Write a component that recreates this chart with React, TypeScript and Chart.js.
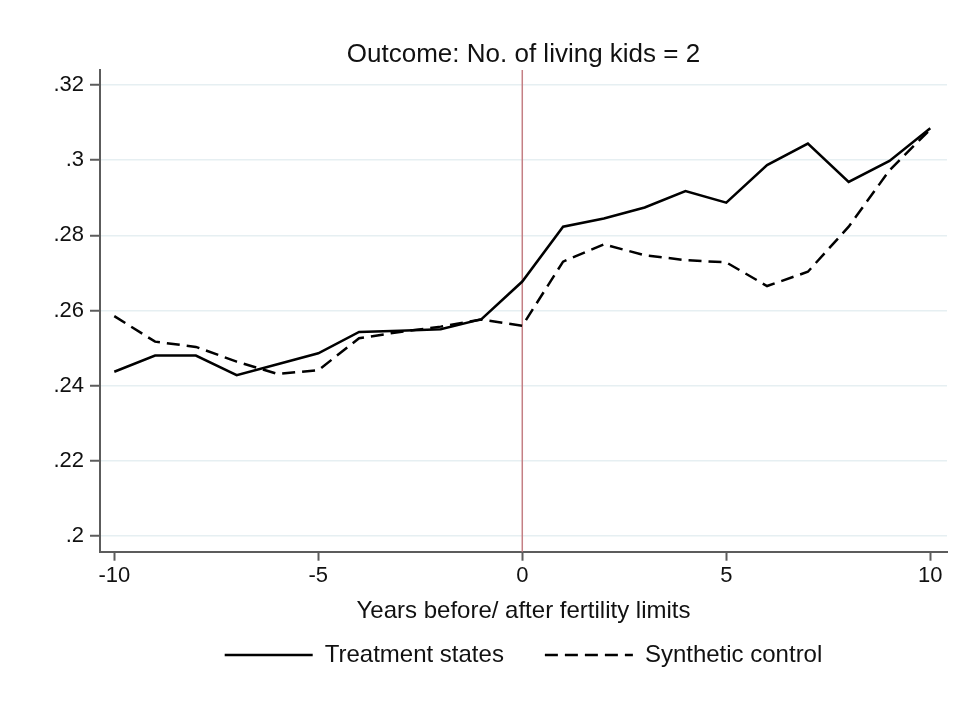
import React, { useEffect, useRef } from "react";
import { Chart, registerables } from "chart.js";

Chart.register(...registerables);

const TITLE = "Outcome: No. of living kids = 2";
const X_TITLE = "Years before/ after fertility limits";
const YEARS = [-10, -9, -8, -7, -6, -5, -4, -3, -2, -1, 0, 1, 2, 3, 4, 5, 6, 7, 8, 9, 10];
const TREATMENT = [
  0.2437, 0.248, 0.248, 0.2428, 0.2457, 0.2486, 0.2543, 0.2546, 0.255, 0.2577, 0.2677,
  0.2823, 0.2845, 0.2874, 0.2918, 0.2887, 0.2987, 0.3044, 0.2942, 0.2998, 0.3085,
];
const SYNTHETIC = [
  0.2585, 0.2517, 0.2503, 0.2464, 0.2431, 0.2441, 0.2526, 0.2543, 0.2557, 0.2576, 0.2559,
  0.273, 0.2776, 0.2747, 0.2734, 0.2728, 0.2665, 0.2703, 0.2823, 0.2973, 0.3082,
];
const Y_TICKS = [0.2, 0.22, 0.24, 0.26, 0.28, 0.3, 0.32];
const Y_TICK_LABELS = [".2", ".22", ".24", ".26", ".28", ".3", ".32"];
const X_TICKS = [-10, -5, 0, 5, 10];
const X_TICK_LABELS = ["-10", "-5", "0", "5", "10"];
const SERIES_NAMES = ["Treatment states", "Synthetic control"];
const EVENT_YEAR = 0;

const FONT = "'Liberation Sans', Arial, Helvetica, sans-serif";
const AXIS_COLOR = "#5c5c5c";
const DASH = [13, 7];

const eventLinePlugin = {
  id: "eventLine",
  beforeDatasetsDraw(chart: any) {
    const { ctx, chartArea, scales } = chart;
    const px = scales.x.getPixelForValue(EVENT_YEAR);
    ctx.save();
    ctx.strokeStyle = "#c47f84";
    ctx.lineWidth = 1.5;
    ctx.beginPath();
    ctx.moveTo(px, chartArea.top);
    ctx.lineTo(px, chartArea.bottom);
    ctx.stroke();
    ctx.restore();
  },
};

export default function App() {
  const ref = useRef<HTMLCanvasElement | null>(null);

  useEffect(() => {
    if (!ref.current) return;
    const chart = new Chart(ref.current, {
      type: "line",
      data: {
        datasets: [
          {
            label: SERIES_NAMES[0],
            data: YEARS.map((x, i) => ({ x, y: TREATMENT[i] })),
            borderColor: "#000000",
            backgroundColor: "#000000",
            borderWidth: 2.5,
            pointRadius: 0,
            tension: 0,
          },
          {
            label: SERIES_NAMES[1],
            data: YEARS.map((x, i) => ({ x, y: SYNTHETIC[i] })),
            borderColor: "#000000",
            backgroundColor: "#000000",
            borderWidth: 2.5,
            borderDash: DASH,
            pointRadius: 0,
            tension: 0,
          },
        ],
      },
      options: {
        animation: false,
        responsive: false,
        maintainAspectRatio: false,
        layout: { padding: { left: 0, right: 11, top: 0, bottom: 28 } },
        scales: {
          x: {
            type: "linear",
            min: -10.35,
            max: 10.41,
            afterBuildTicks: (s: any) => {
              s.ticks = X_TICKS.map((v) => ({ value: v }));
            },
            afterFit: (s: any) => {
              s.height = 50.3;
            },
            ticks: {
              callback: (v: any) => X_TICK_LABELS[X_TICKS.indexOf(Number(v))] ?? "",
              font: { family: FONT, size: 22 },
              color: "#111",
              padding: 2,
              maxRotation: 0,
              autoSkip: false,
            },
            grid: {
              drawOnChartArea: false,
              tickLength: 9,
              tickColor: AXIS_COLOR,
              tickWidth: 2,
            },
            border: { color: AXIS_COLOR, width: 2 },
            title: {
              display: true,
              text: X_TITLE,
              font: { family: FONT, size: 24 },
              color: "#111",
              padding: { top: 0, bottom: -23.4 },
            },
          },
          y: {
            type: "linear",
            min: 0.1958,
            max: 0.324,
            afterBuildTicks: (s: any) => {
              s.ticks = Y_TICKS.map((v) => ({ value: v }));
            },
            afterFit: (s: any) => {
              s.width = 100;
            },
            ticks: {
              callback: (v: any) => {
                const idx = Y_TICKS.findIndex((t) => Math.abs(t - Number(v)) < 1e-9);
                return idx >= 0 ? Y_TICK_LABELS[idx] : "";
              },
              font: { family: FONT, size: 22 },
              color: "#111",
              padding: 6,
              autoSkip: false,
            },
            grid: {
              color: "#e6eff2",
              lineWidth: 1.5,
              tickLength: 10,
              tickColor: AXIS_COLOR,
              tickWidth: 2,
            },
            border: { color: AXIS_COLOR, width: 2 },
          },
        },
        plugins: {
          title: {
            display: true,
            text: TITLE,
            fullSize: false,
            font: { family: FONT, size: 26, weight: "normal" },
            color: "#111",
            padding: { top: 39, bottom: -0.2 },
          },
          legend: {
            display: true,
            position: "bottom",
            fullSize: false,
            labels: {
              usePointStyle: true,
              pointStyle: "line",
              pointStyleWidth: 88,
              font: { family: FONT, size: 24 },
              color: "#111",
              padding: 41,
              generateLabels: (c: any) =>
                c.data.datasets.map((ds: any, i: number) => ({
                  text: ds.label,
                  fillStyle: "#000",
                  strokeStyle: "#000",
                  lineWidth: 2.5,
                  lineDash: ds.borderDash || [],
                  pointStyle: "line",
                  hidden: false,
                  datasetIndex: i,
                  fontColor: "#111",
                })),
            },
          },
          tooltip: { enabled: false },
        },
      },
      plugins: [eventLinePlugin],
    } as any);
    return () => chart.destroy();
  }, []);

  return (
    <div style={{ position: "absolute", left: 0, top: 0, width: 958, height: 705, background: "#fff" }}>
      <canvas ref={ref} width={958} height={705} style={{ width: 958, height: 705 }} />
    </div>
  );
}
